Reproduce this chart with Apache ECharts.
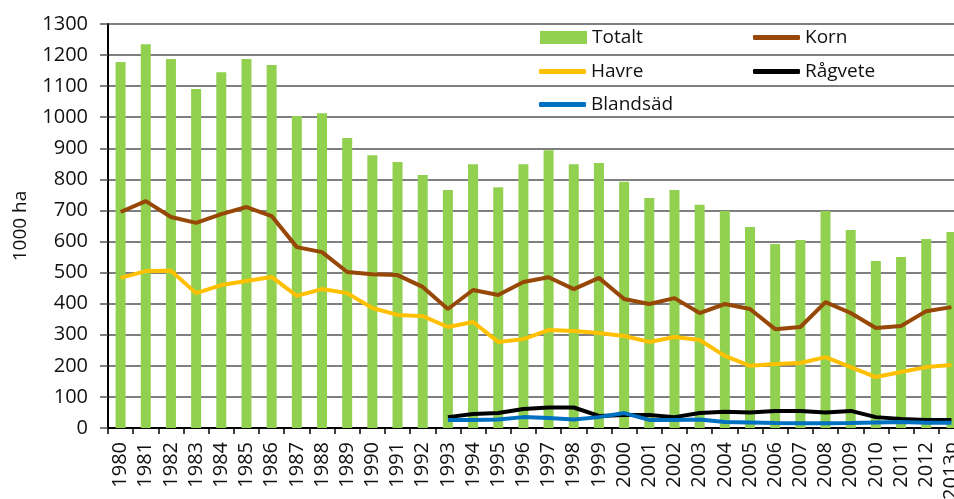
<!DOCTYPE html>
<html>
<head>
<meta charset="utf-8">
<script src="https://cdn.jsdelivr.net/npm/echarts@6/dist/echarts.min.js"></script>
<style>
  html, body { margin: 0; padding: 0; background: #fff; }
  #main { width: 954px; height: 499px; }
</style>
</head>
<body>
<div id="main"></div>
<script>
// år (kategorier)
var years = ['1980','1981','1982','1983','1984','1985','1986','1987','1988','1989',
  '1990','1991','1992','1993','1994','1995','1996','1997','1998','1999',
  '2000','2001','2002','2003','2004','2005','2006','2007','2008','2009',
  '2010','2011','2012','2013p'];

// 1000 ha
var totalt = [1178,1235,1187,1091,1145,1187,1168,1004,1013,933,
  878,856,814,766,849,775,849,894,849,853,
  792,740,766,718,698,647,592,605,698,637,
  537,550,608,631];
var korn = [695,730,679,660,688,711,682,582,566,502,
  495,492,454,383,444,428,470,485,447,483,
  415,399,418,370,399,383,318,325,405,370,
  322,328,376,389];
var havre = [483,505,506,434,460,473,486,425,447,434,
  386,364,360,325,341,277,286,315,312,306,
  296,277,293,283,232,200,206,209,228,196,
  164,180,196,203];
var ragvete = [null,null,null,null,null,null,null,null,null,null,
  null,null,null,35,45,48,61,66,66,39,
  42,42,35,48,52,50,55,55,50,55,
  35,29,26,26];
var blandsad = [null,null,null,null,null,null,null,null,null,null,
  null,null,null,26,26,27,35,32,27,35,
  48,26,26,27,19,18,16,15,15,16,
  18,19,17,17];

var font = '"Open Sans", "Noto Sans", sans-serif';

var chart = echarts.init(document.getElementById('main'));

function leg(name, left, top, icon, h) {
  return {
    data: [name],
    left: left,
    top: top,
    icon: icon,
    itemWidth: 47,
    itemHeight: h,
    itemGap: 5,
    selectedMode: false,
    textStyle: { fontFamily: font, fontSize: 19, color: '#111' }
  };
}

var option = {
  animation: false,
  legend: [
    leg('Totalt', 535, 23, 'rect', 13),
    leg('Korn', 748, 23, 'roundRect', 5),
    leg('Havre', 534, 57, 'roundRect', 5),
    leg('Rågvete', 748, 57, 'roundRect', 5),
    leg('Blandsäd', 534, 90, 'roundRect', 5)
  ],
  grid: { left: 108, top: 24, width: 856, height: 404, outerBoundsMode: 'none', containLabel: false },
  xAxis: {
    type: 'category',
    data: years,
    axisLine: { lineStyle: { color: '#000', width: 2 } },
    axisTick: { show: true, length: 6, lineStyle: { color: '#000', width: 1.5 } },
    axisLabel: { rotate: 90, margin: 14, interval: 0, fontFamily: font, fontSize: 20, color: '#111' }
  },
  yAxis: {
    type: 'value',
    min: 0,
    max: 1300,
    interval: 100,
    name: '1000 ha',
    nameLocation: 'middle',
    nameGap: 78,
    nameTextStyle: { fontFamily: font, fontSize: 19, color: '#111' },
    axisLine: { show: true, lineStyle: { color: '#000', width: 2 } },
    axisTick: { show: true, length: 8, lineStyle: { color: '#555', width: 1.5 } },
    axisLabel: { margin: 20, fontFamily: font, fontSize: 20, color: '#111', formatter: function (v) { return String(v); } },
    splitLine: { lineStyle: { color: '#555', width: 1.5 } }
  },
  series: [
    { name: 'Totalt', type: 'bar', data: totalt, barWidth: 10, itemStyle: { color: '#92D050' } },
    { name: 'Korn', type: 'line', data: korn, symbol: 'none', lineStyle: { color: '#974706', width: 4 }, itemStyle: { color: '#974706' } },
    { name: 'Havre', type: 'line', data: havre, symbol: 'none', lineStyle: { color: '#FFC000', width: 4 }, itemStyle: { color: '#FFC000' } },
    { name: 'Rågvete', type: 'line', data: ragvete, symbol: 'none', lineStyle: { color: '#000000', width: 4 }, itemStyle: { color: '#000000' } },
    { name: 'Blandsäd', type: 'line', data: blandsad, symbol: 'none', lineStyle: { color: '#0070C0', width: 4 }, itemStyle: { color: '#0070C0' } }
  ]
};

chart.setOption(option);
</script>
</body>
</html>
